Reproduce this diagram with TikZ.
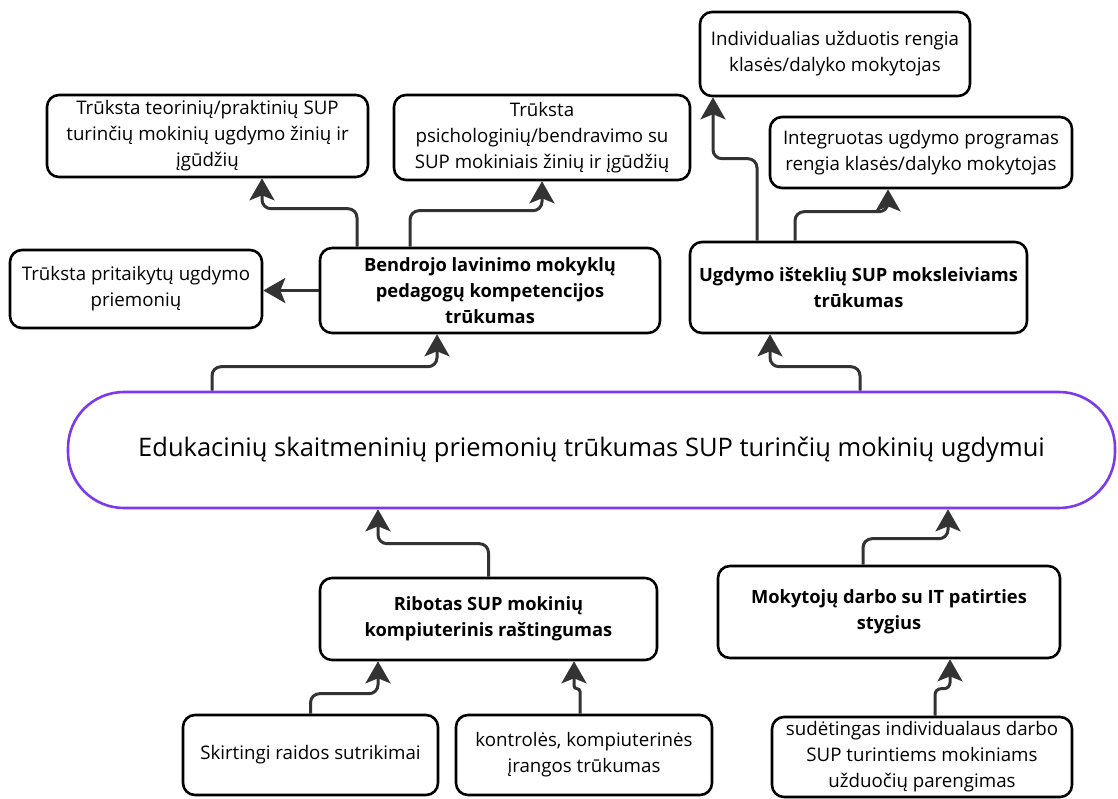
\documentclass[tikz,border=0pt]{standalone}
\usepackage{fontspec}
\setmainfont{Open Sans}
\usetikzlibrary{arrows.meta,positioning,calc}
\definecolor{linegray}{HTML}{333333}
\definecolor{mainpurple}{HTML}{7C3AED}
\begin{document}
\begin{tikzpicture}[
  x=1pt,y=-1pt,
  box/.style={draw,line width=2.6pt,rounded corners=12pt,align=center,
              inner sep=2pt,font=\fontsize{18.7}{26}\selectfont},
  keybox/.style={box,font=\fontsize{18.3}{26}\selectfont\bfseries},
  conn/.style={draw=linegray,line width=3pt,rounded corners=9pt,
               -{Stealth[length=22pt,width=25pt,inset=5pt]}}
]
\useasboundingbox (0,0) rectangle (1118,798);
\node[box,minimum width=321pt,minimum height=82pt] (teor) at (207.5,136)
      {Trūksta teorinių/praktinių SUP\\turinčių mokinių ugdymo žinių ir\\įgūdžių};
\node[box,minimum width=296pt,minimum height=85pt] (psich) at (542,137.5)
      {Trūksta\\psichologinių/bendravimo su\\SUP mokiniais žinių ir įgūdžių};
\node[box,minimum width=270pt,minimum height=84pt] (indiv) at (835,54)
      {Individualias užduotis rengia\\klasės/dalyko mokytojas};
\node[box,minimum width=302pt,minimum height=71pt] (integr) at (921,152.5)
      {Integruotas ugdymo programas\\rengia klasės/dalyko mokytojas};
\node[box,minimum width=252pt,minimum height=78pt] (pritaik) at (136,289)
      {Trūksta pritaikytų ugdymo\\priemonių};
\node[keybox,minimum width=340pt,minimum height=85pt] (kompet) at (490,290.5)
      {Bendrojo lavinimo mokyklų\\pedagogų kompetencijos\\trūkumas};
\node[keybox,minimum width=337pt,minimum height=91pt] (istekl) at (858.5,287.5)
      {Ugdymo išteklių SUP moksleiviams\\trūkumas};
\node[draw=mainpurple,line width=2.6pt,rounded corners=56pt,
      minimum width=1047pt,minimum height=116pt,
      font=\fontsize{25.5}{30}\selectfont] (problema) at (591.5,450)
      {Edukacinių skaitmeninių priemonių trūkumas SUP turinčių mokinių ugdymui};
\node[keybox,minimum width=337pt,minimum height=82pt] (rastin) at (488.5,619)
      {Ribotas SUP mokinių\\kompiuterinis raštingumas};
\node[keybox,minimum width=342pt,minimum height=92pt] (patirt) at (889,612)
      {Mokytojų darbo su IT patirties\\stygius};
\node[box,minimum width=255pt,minimum height=80pt] (raida) at (310.5,755)
      {Skirtingi raidos sutrikimai};
\node[box,minimum width=256pt,minimum height=80pt] (iranga) at (584,755)
      {kontrolės, kompiuterinės\\įrangos trūkumas};
\node[box,minimum width=300pt,minimum height=80pt] (uzduot) at (922,757)
      {sudėtingas individualaus darbo\\SUP turintiems mokiniams\\užduočių parengimas};
\draw[conn] ([xshift=-133pt]kompet.north) -- ++(0,-38) -| ([xshift=54.5pt]teor.south);
\draw[conn] ([xshift=-80pt]kompet.north) -- ++(0,-36) -| (psich.south);
\draw[conn] (kompet.west) -- (kompet.west -| pritaik.east);
\draw[conn] ([xshift=-101.5pt]istekl.north) -- ++(0,-82) -| ([xshift=-122pt]indiv.south);
\draw[conn] ([xshift=-63.5pt]istekl.north) -- ++(0,-29) -| ([xshift=-33pt]integr.south);
\draw[conn] ([xshift=-379.5pt]problema.north) -- ++(0,-24) -| ([xshift=-53pt]kompet.south);
\draw[conn] ([xshift=268.5pt]problema.north) -- ++(0,-24) -| ([xshift=-88.5pt]istekl.south);
\draw[conn] (rastin.north) -- ++(0,-33) -| ([xshift=-213.5pt]problema.south);
\draw[conn] ([xshift=-26pt]patirt.north) -- ++(0,-26) -| ([xshift=356.5pt]problema.south);
\draw[conn] (raida.north) -- ++(0,-20) -| ([xshift=-110.5pt]rastin.south);
\draw[conn,rounded corners=3pt] ([xshift=-4pt]iranga.north) -- ++(0,-25) -| ([xshift=85.5pt]rastin.south);
\draw[conn,rounded corners=6pt] ([xshift=13pt]uzduot.north) -- ++(0,-27) -| ([xshift=61pt]patirt.south);
\end{tikzpicture}
\end{document}
